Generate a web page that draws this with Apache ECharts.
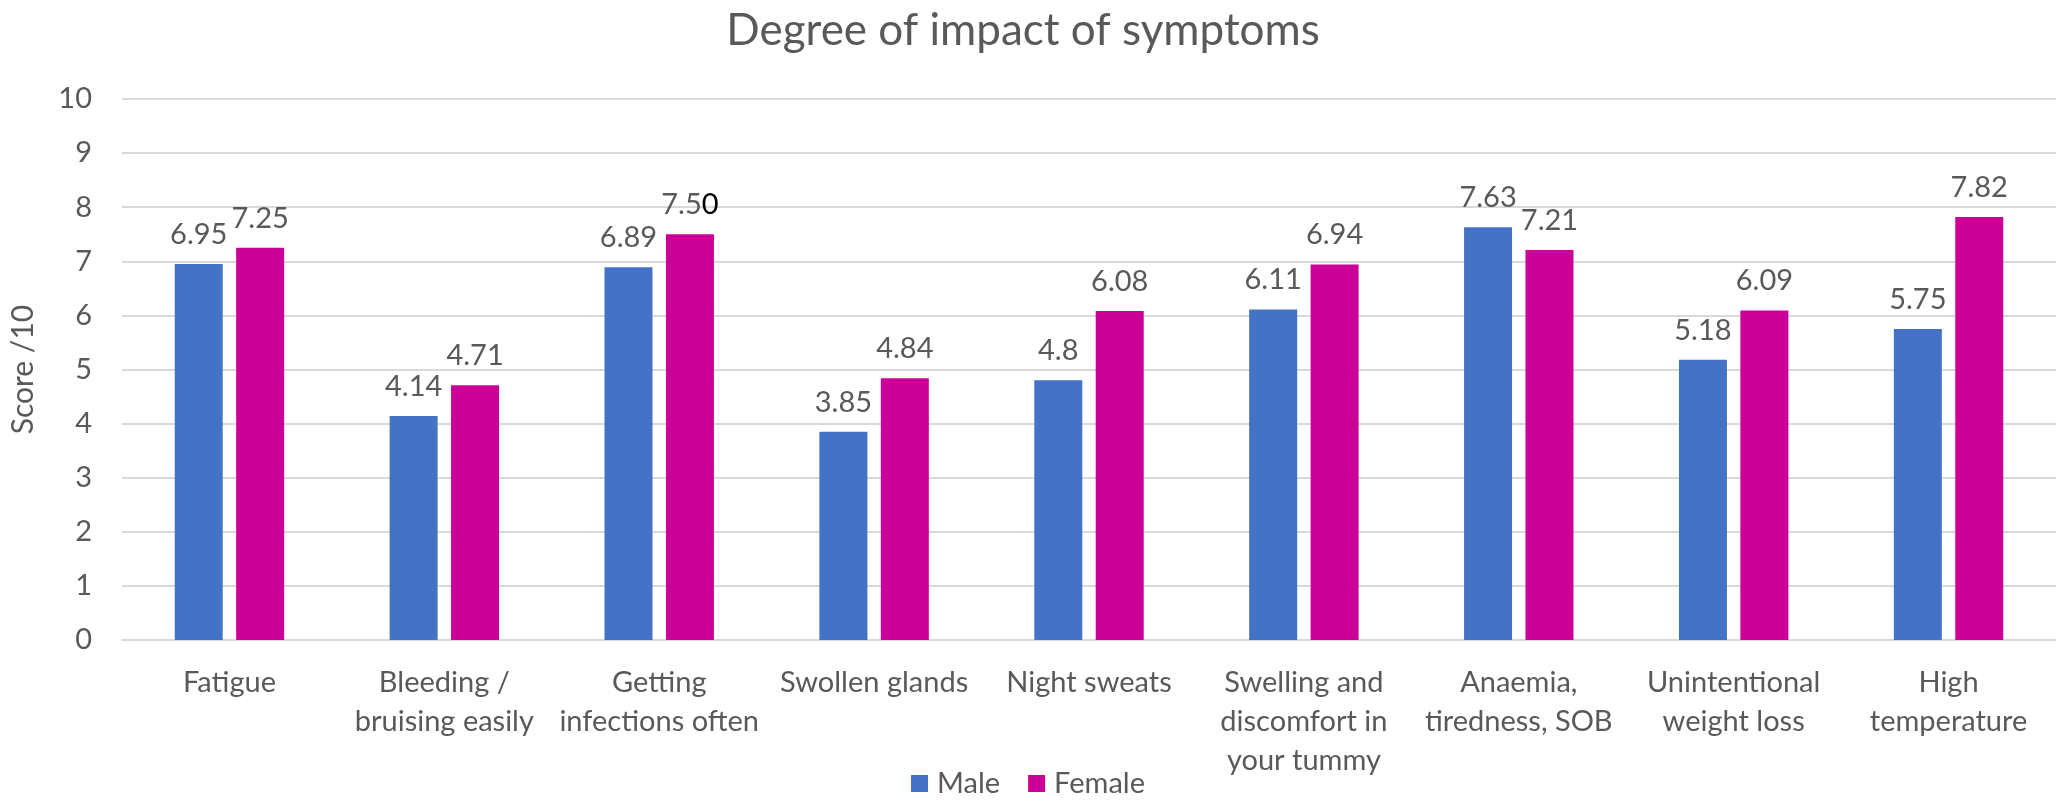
<!DOCTYPE html>
<html>
<head>
<meta charset="utf-8">
<title>Degree of impact of symptoms</title>
<script src="https://cdn.jsdelivr.net/npm/echarts@6/dist/echarts.min.js"></script>
<style>
  html, body { margin: 0; padding: 0; background: #ffffff; }
  #chart { width: 2056px; height: 803px; }
</style>
</head>
<body>
<div id="chart"></div>
<script>
// Symptom categories (line breaks follow the wrapped axis labels)
const categories = [
  'Fatigue',
  'Bleeding /\nbruising easily',
  'Getting\ninfections often',
  'Swollen glands',
  'Night sweats',
  'Swelling and\ndiscomfort in\nyour tummy',
  'Anaemia,\ntiredness, SOB',
  'Unintentional\nweight loss',
  'High\ntemperature'
];

// Average impact score out of 10
const maleScores   = [6.95, 4.14, 6.89, 3.85, 4.8, 6.11, 7.63, 5.18, 5.75];
const femaleScores = [7.25, 4.71, 7.50, 4.84, 6.08, 6.94, 7.21, 6.09, 7.82];

const seriesNames = ['Male', 'Female'];
const yTicks = { min: 0, max: 10, interval: 1 };

const FONT = 'Lato, "Noto Sans", sans-serif';
const GREY = '#595959';

// Female scores are shown to two decimals; a padded trailing digit is drawn darker
function femaleLabel(p) {
  const plain = String(p.value);
  const fixed = p.value.toFixed(2);
  if (fixed.length > plain.length) {
    return plain + '{pad|' + fixed.slice(plain.length) + '}';
  }
  return fixed;
}

const chart = echarts.init(document.getElementById('chart'), null, { renderer: 'canvas' });

chart.setOption({
  backgroundColor: '#ffffff',
  animation: false,
  textStyle: { fontFamily: FONT },
  title: {
    text: 'Degree of impact of symptoms',
    left: 1018,
    textAlign: 'center',
    top: 4,
    textStyle: { fontFamily: FONT, fontSize: 44, fontWeight: 'normal', color: GREY }
  },
  legend: {
    data: seriesNames,
    bottom: 0,
    left: 'center',
    itemWidth: 17,
    itemHeight: 17,
    itemGap: 28,
    icon: 'rect',
    textStyle: { fontFamily: FONT, fontSize: 29, color: GREY, padding: [0, 0, 0, 4] }
  },
  grid: {
    left: 122,
    right: -2,
    top: 99,
    bottom: 163,
    containLabel: false
  },
  xAxis: {
    type: 'category',
    data: categories,
    axisLine: { show: true, lineStyle: { color: '#D9D9D9', width: 2 } },
    axisTick: { show: false },
    axisLabel: {
      interval: 0,
      margin: 23,
      fontFamily: FONT,
      fontSize: 29,
      lineHeight: 39,
      color: GREY,
      align: 'center'
    }
  },
  yAxis: {
    type: 'value',
    min: yTicks.min,
    max: yTicks.max,
    interval: yTicks.interval,
    name: 'Score /10',
    nameLocation: 'middle',
    nameGap: 84,
    nameTextStyle: { fontFamily: FONT, fontSize: 30, color: GREY },
    axisLine: { show: false },
    axisTick: { show: false },
    axisLabel: { margin: 30, fontFamily: FONT, fontSize: 29, color: GREY },
    splitLine: { lineStyle: { color: '#D9D9D9', width: 2 } }
  },
  series: [
    {
      name: seriesNames[0],
      type: 'bar',
      data: maleScores,
      barWidth: 48,
      barGap: '28%',
      itemStyle: { color: '#4472C4' },
      label: {
        show: true,
        position: 'top',
        distance: 15,
        fontFamily: FONT,
        fontSize: 29,
        color: GREY
      }
    },
    {
      name: seriesNames[1],
      type: 'bar',
      data: femaleScores,
      barWidth: 48,
      barGap: '28%',
      itemStyle: { color: '#CC0099' },
      label: {
        show: true,
        position: 'top',
        distance: 15,
        fontFamily: FONT,
        fontSize: 29,
        color: GREY,
        formatter: femaleLabel,
        rich: {
          pad: { fontFamily: FONT, fontSize: 29, color: '#000000' }
        }
      }
    }
  ]
});
</script>
</body>
</html>
